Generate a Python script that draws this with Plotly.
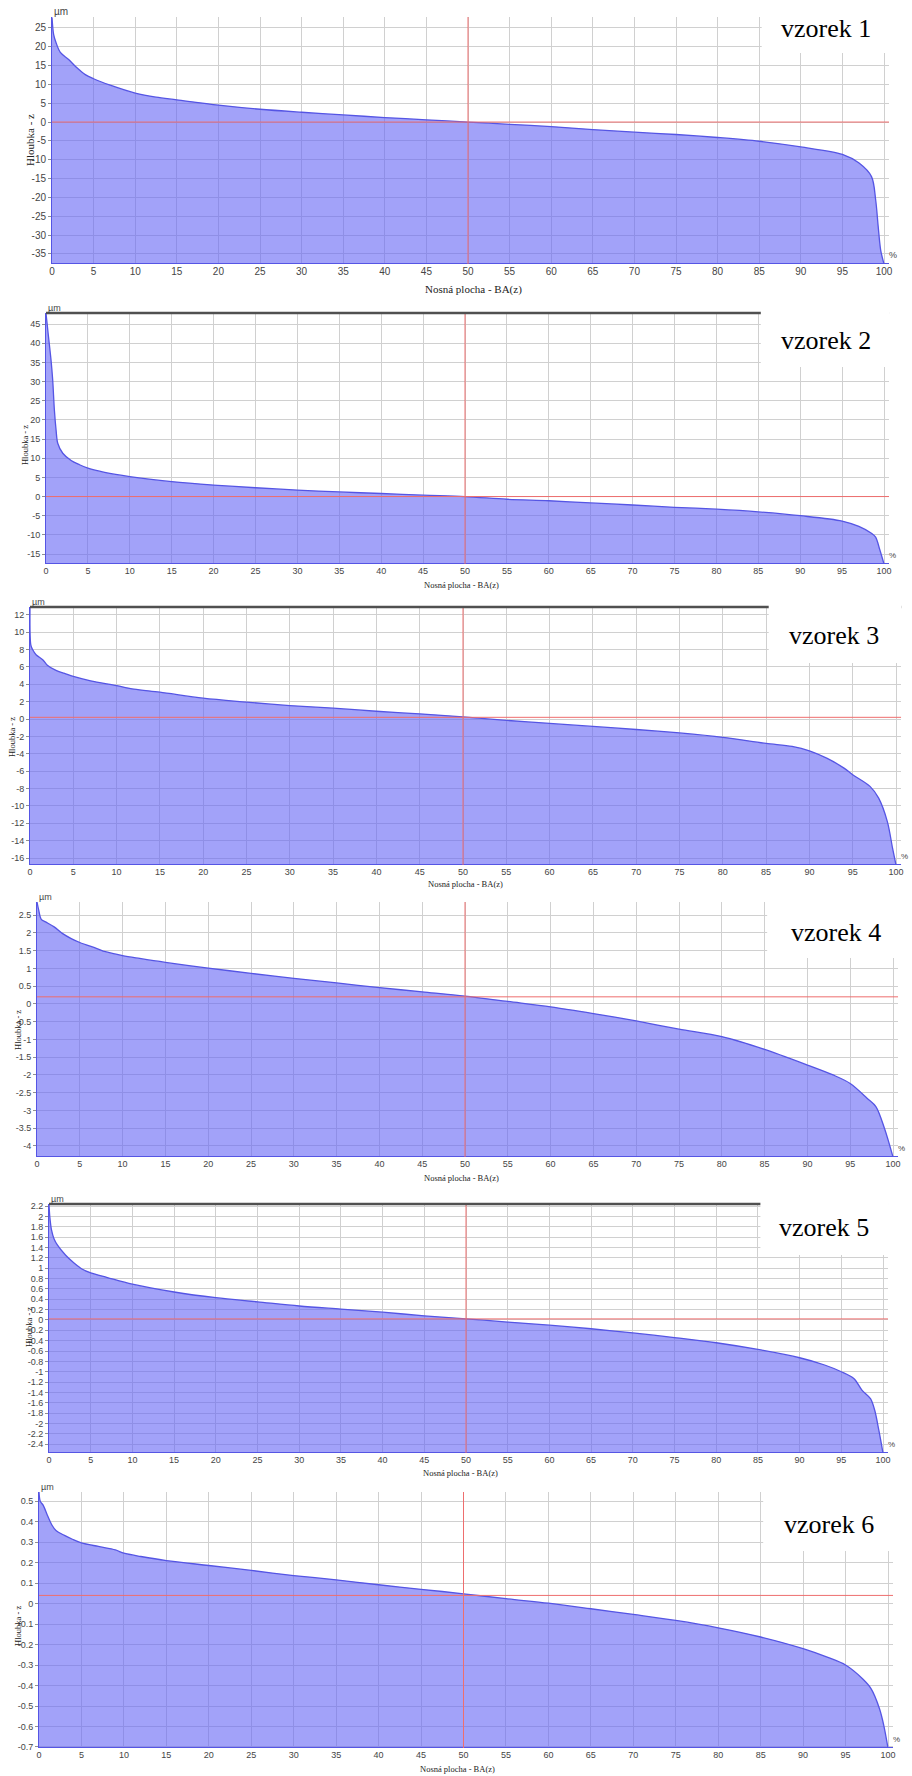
import plotly.graph_objects as go

# ---------------- data ----------------
LABELS = ["vzorek 1", "vzorek 2", "vzorek 3", "vzorek 4", "vzorek 5", "vzorek 6"]
X_TITLE = "Nosná plocha - BA(z)"
Y_TITLE = "Hloubka - z"
UNIT = "µm"
PCT = "%"
X_TICKS = [0, 5, 10, 15, 20, 25, 30, 35, 40, 45, 50, 55, 60, 65, 70, 75, 80, 85, 90, 95, 100]

X1 = [0, 0.2, 0.5, 1, 2, 3, 4, 5, 7, 10, 12.5, 15, 20, 25, 30, 35, 40, 45, 50,
      55, 60, 65, 70, 75, 80, 85, 90, 95, 97, 98.5, 99, 99.3, 99.6, 100]
Z1 = [27.8, 23.2, 21.0, 18.5, 16.6, 14.4, 12.6, 11.5, 9.8, 7.7, 6.6, 5.9, 4.5, 3.4, 2.6, 1.9, 1.2, 0.6, 0.0,
      -0.6, -1.2, -2.0, -2.7, -3.3, -4.1, -5.1, -6.6, -8.6, -10.9, -14.5, -20.7, -27.7, -34.0, -37.7]

X2 = [0, 0.3, 0.6, 0.8, 1.0, 1.2, 1.4, 2, 3, 4, 5, 7, 10, 15, 20, 25, 30, 35, 40, 45, 50,
      55, 60, 65, 70, 75, 80, 85, 90, 95, 97, 98.5, 99, 99.5, 100]
Z2 = [47.8, 41.7, 35.6, 30.4, 22.6, 17.4, 13.9, 11.3, 9.4, 8.3, 7.4, 6.3, 5.2, 3.9, 3.0, 2.3, 1.7, 1.2, 0.8, 0.35, 0.0,
      -0.7, -1.1, -1.65, -2.2, -2.8, -3.3, -4.0, -5.0, -6.4, -7.8, -9.6, -10.6, -13.9, -17.6]

X3 = [0, 0.1, 0.3, 0.7, 1.5, 2, 3, 4, 5, 7, 10, 12, 15, 20, 25, 30, 35, 40, 45, 50,
      55, 60, 65, 70, 75, 80, 85, 88, 90, 92, 94, 95, 97, 98, 99, 99.6, 100]
Z3 = [12.9, 8.5, 8.0, 7.4, 6.8, 6.2, 5.6, 5.25, 4.9, 4.4, 3.85, 3.45, 3.1, 2.4, 1.95, 1.55, 1.25, 0.9, 0.6, 0.25,
      -0.15, -0.5, -0.85, -1.2, -1.6, -2.1, -2.8, -3.15, -3.65, -4.5, -5.65, -6.4, -7.75, -9.1, -11.8, -14.85, -16.8]

X4 = [0, 0.2, 0.5, 1, 2, 3, 4, 5, 7, 8, 10, 12, 15, 20, 25, 30, 35, 40, 45, 50,
      55, 60, 65, 70, 75, 80, 85, 90, 93, 95, 97, 98, 99, 100]
Z4 = [2.87, 2.64, 2.38, 2.31, 2.17, 1.98, 1.84, 1.73, 1.56, 1.47, 1.36, 1.28, 1.17, 1.01, 0.86, 0.72, 0.59, 0.46, 0.34, 0.22,
      0.07, -0.08, -0.27, -0.48, -0.71, -0.92, -1.28, -1.72, -2.0, -2.24, -2.66, -2.89, -3.5, -4.31]

X5 = [0, 0.1, 0.3, 0.6, 1, 2, 3, 4, 5, 7, 10, 15, 20, 25, 30, 35, 40, 45, 50,
      55, 60, 65, 70, 75, 80, 85, 90, 93, 95, 96.5, 97.5, 98.5, 99, 99.5, 100]
Z5 = [2.23, 1.99, 1.74, 1.57, 1.45, 1.25, 1.1, 0.98, 0.91, 0.82, 0.69, 0.54, 0.43, 0.35, 0.27, 0.21, 0.15, 0.08, 0.02,
      -0.04, -0.10, -0.17, -0.25, -0.34, -0.44, -0.57, -0.73, -0.87, -1.0, -1.13, -1.36, -1.52, -1.74, -2.13, -2.57]

X6 = [0, 0.15, 0.5, 1, 1.5, 2, 3, 4, 5, 7, 9, 10, 12, 15, 20, 25, 30, 35, 40, 45, 50,
      55, 60, 65, 70, 75, 80, 85, 90, 93, 95, 97, 98, 99, 99.5, 100]
Z6 = [0.545, 0.50, 0.48, 0.43, 0.385, 0.357, 0.333, 0.313, 0.297, 0.279, 0.262, 0.246, 0.23, 0.21, 0.186, 0.162, 0.137, 0.116, 0.092, 0.07, 0.048,
      0.024, 0.002, -0.025, -0.053, -0.082, -0.118, -0.163, -0.22, -0.264, -0.30, -0.367, -0.415, -0.513, -0.594, -0.705]

Y_TICKS = [
    [25, 20, 15, 10, 5, 0, -5, -10, -15, -20, -25, -30, -35],
    [45, 40, 35, 30, 25, 20, 15, 10, 5, 0, -5, -10, -15],
    [12, 10, 8, 6, 4, 2, 0, -2, -4, -6, -8, -10, -12, -14, -16],
    [2.5, 2, 1.5, 1, 0.5, 0, -0.5, -1, -1.5, -2, -2.5, -3, -3.5, -4],
    [2.2, 2, 1.8, 1.6, 1.4, 1.2, 1, 0.8, 0.6, 0.4, 0.2, 0, -0.2, -0.4, -0.6, -0.8, -1,
     -1.2, -1.4, -1.6, -1.8, -2, -2.2, -2.4],
    [0.5, 0.4, 0.3, 0.2, 0.1, 0, -0.1, -0.2, -0.3, -0.4, -0.5, -0.6, -0.7],
]
Y_RANGES = [[-37.7, 27.9], [-17.6, 47.9], [-16.8, 12.9], [-4.31, 2.87], [-2.57, 2.24], [-0.705, 0.545]]
REF_LEVELS = [0.0, 0.0, 0.2, 0.2, 0.02, 0.04]
REF_X = 50
XS = [X1, X2, X3, X4, X5, X6]
ZS = [Z1, Z2, Z3, Z4, Z5, Z6]

# ---------------- layout geometry / styles ----------------
W, H = 912, 1776
X_MAX = 100.6
# (left px, top px, bottom px, px per % unit)
GEOM = [(52, 17, 264, 8.32), (46, 313, 564, 8.38), (30, 607, 865, 8.66),
        (37, 902, 1157, 8.56), (49, 1204, 1453, 8.34), (39, 1492, 1748, 8.49)]
TOP_BAR = [False, True, True, False, True, False]
BOX_BOTTOM = [0.854, 0.785, 0.783, 0.78, 0.795, 0.77]   # y-domain fraction
LABEL_POS = [(0.925, 0.955), (0.925, 0.892), (0.923, 0.891), (0.928, 0.882), (0.924, 0.904), (0.925, 0.875)]
XT_POS = [(0.504, -25), (0.493, -21), (0.5, -19), (0.493, -21), (0.49, -20), (0.49, -21)]
YT_POS = [(0.502, -22), (0.474, -21), (0.496, -18), (0.498, -19), (0.506, -20), (0.477, -21)]
TICK_SIZE = [10, 9, 9, 9, 9, 9]
TITLE_SIZE = [11, 8.5, 8.5, 8.5, 8.5, 8.5]

FILL = "rgba(100,100,245,0.6)"
LINE = "rgb(85,85,228)"
RED = "rgb(238,110,110)"
GRID = "#d0d0d0"
TICKCOL = "#454545"
SANS = "Liberation Sans, Arial, sans-serif"
SERIF = "Liberation Serif, Times New Roman, serif"

fig = go.Figure()
shapes, annos = [], []
layout = dict(width=W, height=H, margin=dict(l=0, r=0, t=0, b=0, autoexpand=False),
              paper_bgcolor="white", plot_bgcolor="white", showlegend=False,
              hovermode=False)

for i in range(6):
    n = "" if i == 0 else str(i + 1)
    xa, ya = "x" + n, "y" + n
    left, top, bottom, sc = GEOM[i]
    ymin, ymax = Y_RANGES[i]
    # baseline + filled curve
    fig.add_trace(go.Scatter(x=[0, X_MAX], y=[ymin, ymin], mode="lines",
                             line=dict(color=LINE, width=2), xaxis=xa, yaxis=ya,
                             hoverinfo="skip"))
    fig.add_trace(go.Scatter(x=XS[i], y=ZS[i], mode="lines", fill="tonexty",
                             fillcolor=FILL,
                             line=dict(color=LINE, width=1.3, shape="spline", smoothing=0.9),
                             xaxis=xa, yaxis=ya, hoverinfo="skip"))
    layout["xaxis" + n] = dict(
        domain=[left / W, (left + X_MAX * sc) / W], range=[0, X_MAX], anchor=ya,
        automargin=False,
        tickmode="array", tickvals=X_TICKS, ticktext=[str(v) for v in X_TICKS],
        showgrid=True, gridcolor=GRID, gridwidth=1, zeroline=False, showline=False,
        ticks="", tickfont=dict(family=SANS, size=TICK_SIZE[i], color=TICKCOL))
    layout["yaxis" + n] = dict(
        domain=[1 - bottom / H, 1 - top / H], range=[ymin, ymax], anchor=xa,
        automargin=False,
        tickmode="array", tickvals=Y_TICKS[i], ticktext=[f"{v:g}" for v in Y_TICKS[i]],
        showgrid=True, gridcolor=GRID, gridwidth=1, zeroline=False,
        showline=True, linecolor=LINE, linewidth=1,
        ticks="outside", ticklen=3, tickcolor="#909090",
        tickfont=dict(family=SANS, size=TICK_SIZE[i], color=TICKCOL))
    # reference lines
    shapes.append(dict(type="line", xref=xa, yref=ya + " domain", x0=REF_X, x1=REF_X, y0=0, y1=1,
                       line=dict(color=RED, width=1), layer="above"))
    shapes.append(dict(type="line", xref=xa, yref=ya, x0=0, x1=X_MAX,
                       y0=REF_LEVELS[i], y1=REF_LEVELS[i],
                       line=dict(color=RED, width=1), layer="above"))
    if TOP_BAR[i]:
        shapes.append(dict(type="line", xref=xa + " domain", yref=ya + " domain", x0=0, x1=1, y0=1, y1=1,
                           line=dict(color="#505050", width=2.5), layer="above"))
    # white label box
    shapes.append(dict(type="rect", xref=xa, yref=ya + " domain", x0=85.3, x1=X_MAX + 1,
                       y0=BOX_BOTTOM[i], y1=1.02, fillcolor="white",
                       line=dict(width=0), layer="above"))
    lx, ly = LABEL_POS[i]
    annos.append(dict(text=LABELS[i], xref=xa + " domain", yref=ya + " domain", x=lx, y=ly,
                      xanchor="center", yanchor="middle", showarrow=False,
                      font=dict(family=SERIF, size=26, color="black")))
    annos.append(dict(text=UNIT, xref=xa + " domain", yref=ya + " domain", x=0, y=1,
                      xanchor="left", yanchor="bottom", showarrow=False, yshift=-2,
                      font=dict(family=SANS, size=TICK_SIZE[i], color=TICKCOL)))
    annos.append(dict(text=PCT, xref=xa + " domain", yref=ya + " domain", x=1, y=0,
                      xanchor="left", yanchor="bottom", showarrow=False, xshift=-2, yshift=2,
                      font=dict(family=SANS, size=TICK_SIZE[i] - 1, color=TICKCOL)))
    tx, tsh = XT_POS[i]
    annos.append(dict(text=X_TITLE, xref=xa + " domain", yref=ya + " domain", x=tx, y=0,
                      xanchor="center", yanchor="middle", yshift=tsh, showarrow=False,
                      font=dict(family=SERIF, size=TITLE_SIZE[i], color="#222")))
    ty, tsx = YT_POS[i]
    annos.append(dict(text=Y_TITLE, xref=xa + " domain", yref=ya + " domain", x=0, y=ty,
                      xanchor="center", yanchor="middle", xshift=tsx, textangle=-90,
                      showarrow=False,
                      font=dict(family=SERIF, size=TITLE_SIZE[i], color="#222")))

layout["shapes"] = shapes
layout["annotations"] = annos
fig.update_layout(**layout)
fig.write_html("out.html", config={"displayModeBar": False},
               post_script="document.body.style.margin='0px';")
